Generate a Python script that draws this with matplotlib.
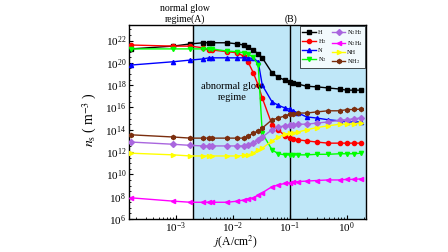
import matplotlib
matplotlib.use("Agg")
import matplotlib.pyplot as plt
import numpy as np
from matplotlib.ticker import FixedLocator, NullFormatter, LogFormatterMathtext

plt.rcParams['font.family'] = ['Liberation Serif', 'Noto Sans CJK SC']
plt.rcParams['mathtext.fontset'] = 'stix'

# current density j (A/cm^2)
j = [1.6e-4, 9e-4, 1.8e-3, 3e-3, 3.8e-3, 4.3e-3, 8e-3, 1.2e-2, 1.55e-2, 1.85e-2,
     2.3e-2, 2.8e-2, 3.3e-2, 4.9e-2, 6.3e-2, 8.3e-2, 0.1, 0.115, 0.14, 0.2,
     0.3, 0.47, 0.76, 1.0, 1.38, 1.8]

# log10 of number density (m^-3)
H = [21.25, 21.5, 21.7, 21.8, 21.8, 21.8, 21.8, 21.7, 21.6, 21.4, 21.15, 20.8, 20.45,
     19.1, 18.7, 18.45, 18.3, 18.2, 18.1, 17.9, 17.85, 17.75, 17.65, 17.55, 17.55, 17.55]
H2 = [21.6, 21.5, 21.5, 21.35, 21.15, 21.15, 21.0, 20.9, 20.6, 20.1, 19.1, 18.0, 16.85,
      14.45, 14.0, 13.45, 13.25, 13.2, 13.1, 13.0, 12.9, 12.8, 12.8, 12.8, 12.8, 12.8]
N = [19.8, 20.1, 20.25, 20.35, 20.45, 20.45, 20.45, 20.45, 20.45, 20.45, 20.4, 20.1, 18.0,
     16.5, 16.2, 15.95, 15.85, 15.7, 15.5, 15.15, 15.05, 14.9, 14.8, 14.7, 14.7, 14.7]
N2 = [21.25, 21.25, 21.25, 21.25, 21.25, 21.25, 21.05, 21.0, 20.9, 20.8, 20.5, 19.8, 13.7,
      12.2, 11.85, 11.75, 11.75, 11.75, 11.75, 11.75, 11.8, 11.8, 11.85, 11.85, 11.85, 11.9]
N2H2 = [12.9, 12.7, 12.6, 12.55, 12.55, 12.55, 12.55, 12.55, 12.55, 12.65, 12.8, 13.1, 13.35,
        14.0, 14.25, 14.35, 14.4, 14.45, 14.5, 14.5, 14.6, 14.7, 14.85, 14.9, 15.0, 15.05]
N2H4 = [7.9, 7.6, 7.5, 7.5, 7.5, 7.5, 7.5, 7.6, 7.7, 7.8, 7.9, 8.15, 8.35,
        8.9, 9.05, 9.2, 9.25, 9.3, 9.35, 9.4, 9.45, 9.5, 9.5, 9.55, 9.55, 9.6]
NH = [11.9, 11.75, 11.65, 11.65, 11.65, 11.65, 11.65, 11.65, 11.7, 11.75, 11.9, 12.2, 12.35,
      13.0, 13.35, 13.6, 13.7, 13.75, 13.8, 14.0, 14.2, 14.35, 14.5, 14.5, 14.55, 14.6]
NH2 = [13.55, 13.35, 13.25, 13.25, 13.25, 13.25, 13.25, 13.25, 13.25, 13.45, 13.7, 13.9, 14.15,
       14.9, 15.05, 15.25, 15.4, 15.45, 15.5, 15.5, 15.6, 15.7, 15.7, 15.8, 15.82, 15.85]

series = [
    ('H', H, 'black', 's'),
    ('H$_2$', H2, '#ff0000', 'o'),
    ('N', N, '#0000ff', '^'),
    ('N$_2$', N2, '#00ff00', 'v'),
    ('N$_2$H$_2$', N2H2, '#a966de', 'D'),
    ('N$_2$H$_4$', N2H4, '#ff00ff', '<'),
    ('NH', NH, '#ffff00', '>'),
    ('NH$_2$', NH2, '#7b2e0e', 'h'),
]

j_A, j_B = 2e-3, 0.1
xlim = (1.5e-4, 2.2)
ylim = (1e6, 2.5e23)

fig = plt.figure(figsize=(4.48, 2.52), dpi=100)
ax = fig.add_axes([0.288, 0.131, 0.529, 0.770])

ax.axvspan(j_A, xlim[1], color='#bfe7f8', zorder=0, lw=0)
ax.axvline(j_A, color='black', lw=1.0, zorder=3)
ax.axvline(j_B, color='black', lw=1.0, zorder=3)

for name, vals, col, mk in series:
    ax.plot(j, 10 ** np.array(vals), color=col, marker=mk, ms=3, lw=1.0,
            label=name, zorder=4)

ax.set_xscale('log')
ax.set_yscale('log')
ax.set_xlim(*xlim)
ax.set_ylim(*ylim)

ax.yaxis.set_major_locator(FixedLocator([10.0 ** k for k in range(6, 23, 2)]))
ax.yaxis.set_major_formatter(LogFormatterMathtext())
ax.yaxis.set_minor_locator(FixedLocator([10.0 ** (k / 2) for k in range(12, 47)]))
ax.yaxis.set_minor_formatter(NullFormatter())
ax.xaxis.set_major_locator(FixedLocator([1e-3, 1e-2, 1e-1, 1e0]))
ax.xaxis.set_major_formatter(LogFormatterMathtext())

ax.tick_params(which='both', direction='in', labelsize=8, pad=2)
ax.tick_params(axis='x', pad=1.0)
ax.tick_params(which='major', length=3, width=0.8)
ax.tick_params(which='minor', length=1.5, width=0.6)
for s in ax.spines.values():
    s.set_linewidth(1.0)

# axis titles placed by hand
fig.text(235 / 448, 1.5 / 252, '$j$(A/cm$^2$)', ha='center', va='bottom', fontsize=8.5)
fig.text(90 / 448, 1 - 120 / 252, '$n_{\\rm s}$\u2009( m$^{-3}$ )', ha='center', va='center',
         rotation=90, fontsize=10)

fig.text(185 / 448, 1 - 14 / 252, 'normal glow\nregime(A)', ha='center', va='center',
         fontsize=7, linespacing=1.1)
fig.text(291 / 448, 1 - 19 / 252, '(B)', ha='center', va='center', fontsize=7)
ax.text(232 / 448, 1 - 92 / 252, 'abnormal glow\nregime', transform=fig.transFigure,
        ha='center', va='center', fontsize=7.5, linespacing=1.2, zorder=5)

leg = ax.legend(loc='upper right', ncol=2, fontsize=4.5, frameon=True, fancybox=False,
                edgecolor='black', borderpad=0.3, labelspacing=0.35, handlelength=2.2,
                handletextpad=0.3, columnspacing=0.8, borderaxespad=0.15)
leg.get_frame().set_linewidth(0.6)
leg.set_zorder(6)

fig.savefig('out.png', dpi=100)
